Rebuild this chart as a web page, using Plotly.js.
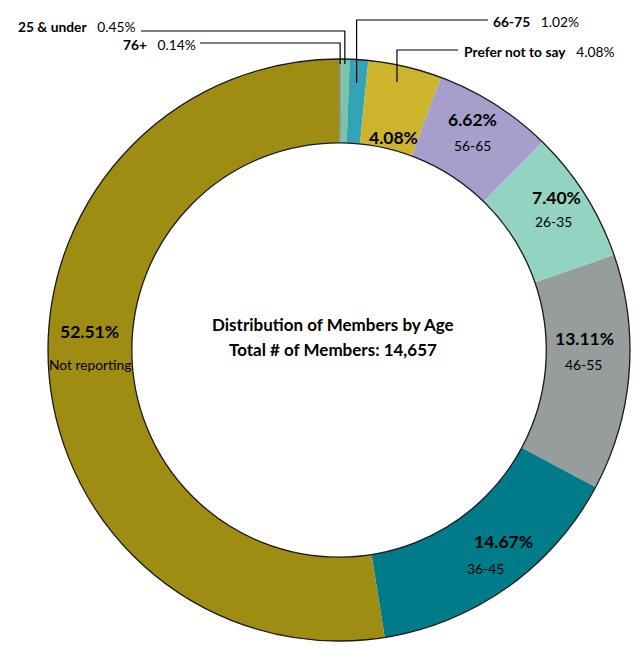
<!DOCTYPE html>
<html>
<head>
<meta charset="utf-8">
<script src="https://cdn.plot.ly/plotly-3.0.1.min.js"></script>
<style>html,body{margin:0;padding:0;background:#fff;}#chart{width:638px;height:655px;}</style>
</head>
<body>
<div id="chart"></div>
<script>
// ---- data ----
const labels = ['76+', '25 & under', '66-75', 'Prefer not to say', '56-65', '26-35', '46-55', '36-45', 'Not reporting'];
const values = [0.14, 0.45, 1.02, 4.08, 6.62, 7.40, 13.11, 14.67, 52.51];
const colors = ['#8d9294', '#7cc4a6', '#34a3b5', '#ccb42c', '#a69fcb', '#93d3c2', '#979c9d', '#007b8a', '#9f8c13'];
const titleLines = ['Distribution of Members by Age', 'Total # of Members: 14,657'];

// ---- geometry (pixels) ----
const W = 638, H = 655;
const L = 48, T = 59, S = 582;          // plot area
const CX = L + S / 2, CY = T + S / 2;
const HOLE = 0.712;
const FONT = 'Lato, "Open Sans", sans-serif';

function px(x, y) { return { x: (x - L) / S, y: 1 - (y - T) / S }; }

const total = values.reduce((a, b) => a + b, 0);
const pct = values.map(v => (v / total * 100).toFixed(2) + '%');
const cum = [];
let acc = 0;
values.forEach(v => { cum.push(acc + v / 2); acc += v; });
const midAngle = cum.map(c => c / total * 2 * Math.PI);

const annotations = [];
function addText(text, x, y, size, bold, xanchor) {
  const p = px(x, y);
  annotations.push({
    xref: 'paper', yref: 'paper', x: p.x, y: p.y, text: bold ? '<b>' + text + '</b>' : text,
    showarrow: false, xanchor: xanchor || 'center', yanchor: 'middle',
    font: { family: FONT, size: size, color: '#000' }
  });
}

// inside labels: [index, pctX, pctY, labX, labY, showLabel]
const inside = [
  [3, 393, 137, 0, 0, false],
  [4, 472, 120, 472, 145, true],
  [5, 556, 197, 553, 221, true],
  [6, 584, 338, 583, 364, true],
  [7, 503, 541, 485, 568, true],
  [8, 89, 331, 90, 364, true]
];
inside.forEach(d => {
  addText(pct[d[0]], d[1], d[2], 17.5, true);
  if (d[5]) addText(labels[d[0]], d[3], d[4], 13.8, false);
});

// center title
addText(titleLines[0], 333, 325, 17, true);
addText(titleLines[1], 333, 349, 17, true);

// outside labels: [index, textX, textY, anchor, lineStartX, lineY, endY]
const outside = [
  [1, 138, 27, 'right', 141, 31, 64],
  [0, 198, 44, 'right', 200, 43, 64],
  [2, 491, 21, 'left', 488, 20, 83],
  [3, 462, 51, 'left', 458, 50, 82]
];
const shapes = [];
const RL = 255;
outside.forEach(d => {
  const i = d[0];
  const p = px(d[1], d[2]);
  annotations.push({
    xref: 'paper', yref: 'paper', x: p.x, y: p.y,
    text: '<b>' + labels[i] + '</b>\u00a0\u00a0\u00a0' + pct[i],
    showarrow: false, xanchor: d[3], yanchor: 'middle',
    font: { family: FONT, size: 13.8, color: '#000' }
  });
  const lx = CX + RL * Math.sin(midAngle[i]);
  const a = px(d[4], d[5]), b = px(lx, d[5]), c = px(lx, d[6]);
  shapes.push({
    type: 'path', xref: 'paper', yref: 'paper',
    path: `M ${a.x} ${a.y} L ${b.x} ${b.y} L ${c.x} ${c.y}`,
    line: { color: '#000', width: 1.2 }
  });
});

const data = [
  {
    type: 'pie', labels: labels, values: values, sort: false, direction: 'clockwise', rotation: 0,
    hole: HOLE, marker: { colors: colors, line: { width: 0 } },
    textinfo: 'none', hoverinfo: 'label+percent', showlegend: false,
    domain: { x: [0, 1], y: [0, 1] }
  },
  {
    type: 'pie', values: [1], labels: ['outline'], sort: false, hole: HOLE,
    marker: { colors: ['rgba(0,0,0,0)'], line: { color: '#1a1a1a', width: 1.3 } },
    textinfo: 'none', hoverinfo: 'skip', showlegend: false,
    domain: { x: [0, 1], y: [0, 1] }
  }
];

const layout = {
  width: W, height: H,
  margin: { l: L, r: W - L - S, t: T, b: H - T - S },
  paper_bgcolor: '#fff', plot_bgcolor: '#fff',
  showlegend: false,
  annotations: annotations,
  shapes: shapes
};

Plotly.newPlot('chart', data, layout, { displayModeBar: false, staticPlot: true });
</script>
</body>
</html>
